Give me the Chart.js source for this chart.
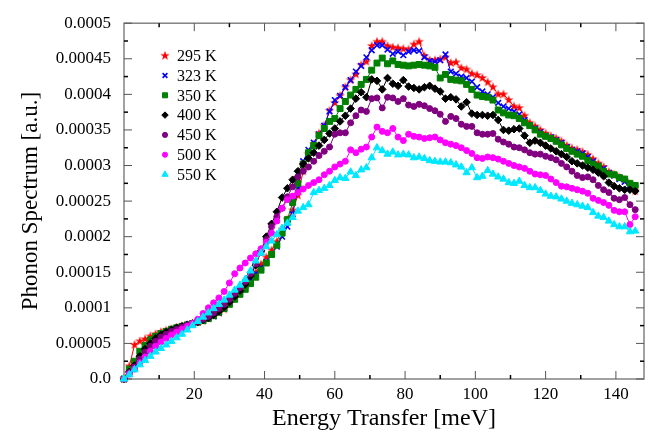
<!DOCTYPE html>
<html><head><meta charset="utf-8">
<script src="https://cdn.jsdelivr.net/npm/chart.js@4.4.0/dist/chart.umd.min.js"></script>
<style>html,body{margin:0;padding:0;background:#fff;}#wrap{width:656px;height:436px;}</style>
</head><body><div id="wrap"><canvas id="c" width="656" height="436"></canvas></div>
<script>
// Energy transfer [meV]
const energy = [0,1.5,3,4.5,6,7.5,9,10.5,12,13.5,15,16.5,18,19.5,21,22.5,24,25.5,27,28.5,
30,31.5,33,34.5,36,37.5,39,40.5,42,43.5,45,46.5,48,49.5,51,52.5,54,55.5,57,58.5,
60,61.5,63,64.5,66,67.5,69,70.5,72,73.5,75,76.5,78,79.5,81,82.5,84,85.5,87,88.5,
90,91.5,93,94.5,96,97.5,99,100.5,102,103.5,105,106.5,108,109.5,111,112.5,114,115.5,117,118.5,
120,121.5,123,124.5,126,127.5,129,130.5,132,133.5,135,136.5,138,139.5,141,142.5,144,145.5];

// Phonon spectrum, in units of 1e-6 a.u.
const s295 = [0,18,48,53,56,60,63,66,68,70, 72,74,76,78,80,82,85,89,93,98,
106,114,121,128,140,150,161,171,181,193, 210,224,237,258,292,316,330,345,356,377,
388,398,410,420,428,441,446,468,474,474, 468,466,465,464,463,470,474,454,448,448,
449,452,444,445,437,435,429,427,423,417, 410,400,400,392,383,381,370,360,355,350,
345,341,338,334,328,324,322,319,315,309, 303,298,291,287,283,279,272,264];
const s323 = [0,10,20,32,42,50,56,61,65,68, 71,74,76,78,80,82,85,88,93,100,
108,116,123,130,139,148,157,165,175,186, 200,214,232,268,306,322,332,344,356,376,
392,398,410,420,432,440,452,462,469,469, 463,457,460,455,460,462,461,452,447,446,
448,456,432,429,425,423,418,410,404,400, 396,388,383,380,376,372,364,356,352,347,
342,340,336,332,326,322,320,317,312,306, 300,296,290,286,281,277,272,268];
const s350 = [0,14,25,39,47,55,60,64,67,70, 72,74,76,78,80,82,85,89,94,99,
105,112,119,126,134,143,153,163,175,188, 205,224,248,275,302,318,328,342,352,362,
366,380,390,399,407,414,421,434,444,451, 443,447,442,441,440,441,442,441,440,438,
423,428,421,420,419,414,407,399,397,396, 392,378,374,371,370,366,360,356,350,344,
341,338,334,329,324,320,316,313,307,302, 299,292,288,287,283,281,275,272];
const s400 = [0,10,19,32,42,50,57,62,66,69, 72,74,76,78,80,83,86,90,95,101,
108,116,124,133,145,160,180,200,218,235, 255,268,280,292,302,310,318,328,336,345,
352,362,370,380,394,403,396,421,419,407, 423,415,412,420,411,409,407,410,412,408,
404,394,396,393,383,389,373,371,371,370, 371,364,350,349,351,352,342,332,335,332,
328,324,320,316,312,306,303,300,297,294, 290,285,276,271,268,266,266,264];
const s450 = [0,9,17,28,38,46,53,59,63,67, 70,73,76,78,81,84,88,93,99,105,
112,120,128,137,148,162,178,196,214,228, 240,256,270,284,292,298,306,314,320,326,
344,346,346,360,370,378,376,394,395,381, 396,395,390,394,385,383,386,384,380,377,
372,362,369,366,358,355,355,346,344,344, 345,337,333,330,326,325,322,318,316,316,
313,311,308,303,298,292,286,283,284,280, 272,266,262,254,252,255,245,238];
const s500 = [0,7,14,23,31,39,46,52,57,62, 66,70,74,78,84,92,100,107,114,123,
135,148,156,163,170,176,183,192,205,222, 240,252,257,262,267,272,276,280,287,292,
298,302,306,322,318,323,326,340,354,348, 346,352,340,335,344,341,340,338,339,340,
336,332,330,328,325,321,317,311,310,312, 311,309,306,303,300,298,296,292,288,287,
286,281,276,271,270,268,266,264,261,254, 251,248,244,237,235,235,217,228];
const s550 = [0,6,13,20,26,32,38,43,48,53, 58,63,69,75,81,87,93,99,105,111,
118,125,132,140,152,166,177,186,194,203, 212,219,227,236,241,245,262,265,268,272,
279,283,282,291,286,294,297,311,325,321, 316,319,315,316,315,311,312,310,307,306,
305,305,304,301,298,290,297,283,285,293, 288,284,281,276,275,278,272,269,269,265,
260,257,256,253,250,247,245,243,241,234, 229,227,222,217,214,214,207,208];

const seriesLabels = ['295 K','323 K','350 K','400 K','450 K','500 K','550 K'];
const xMajorTicks = [20,40,60,80,100,120,140];
const xMinorTicks = [10,30,50,70,90,110,130];
const yTickValues = [0,50,100,150,200,250,300,350,400,450,500];
const yTickLabels = ['0.0','0.00005','0.0001','0.00015','0.0002','0.00025','0.0003','0.00035','0.0004','0.00045','0.0005'];
const yMinorTicks = [25,75,125,175,225,275,325,375,425,475];

function makeStar(color, r){
  const s = Math.ceil(2*r+2);
  const c = document.createElement('canvas'); c.width = s; c.height = s;
  const g = c.getContext('2d'); g.fillStyle = color; g.beginPath();
  for (let k=0;k<10;k++){
    const rr = (k%2) ? r*0.38 : r;
    const a = -Math.PI/2 + k*Math.PI/5;
    g.lineTo(s/2 + rr*Math.cos(a), s/2 + rr*Math.sin(a));
  }
  g.closePath(); g.fill();
  return c;
}

const allSeries = [s295,s323,s350,s400,s450,s500,s550];
const colors = ['#ff0000','#0000ff','#008000','#000000','#800080','#ff00ff','#00e8ff'];
const styles = [
  {ps: makeStar('#ff0000',5), r:5, bw:1},
  {ps:'crossRot', r:4, bw:1.6},
  {ps:'rect', r:4.2, bw:1},
  {ps:'rectRot', r:3.8, bw:1},
  {ps:'circle', r:3, bw:1},
  {ps:'circle', r:3, bw:1},
  {ps:'triangle', r:4.2, bw:1}
];

const datasets = allSeries.map((arr,k)=>({
  label: seriesLabels[k],
  data: energy.map((e,i)=>({x:e, y:arr[i]})),
  borderColor: colors[k], backgroundColor: colors[k],
  borderWidth: 1, pointStyle: styles[k].ps, pointRadius: styles[k].r,
  pointBorderWidth: styles[k].bw, pointHoverRadius: styles[k].r,
  order: 6-k, clip: false, tension: 0
}));

const FONT = "'Liberation Serif', 'Times New Roman', serif";

const framePlugin = {
  id:'frameTicks',
  beforeDatasetsDraw(chart){
    const {ctx, chartArea:a, scales:{x,y}} = chart;
    ctx.save();
    ctx.strokeStyle = '#7a7a7a'; ctx.lineWidth = 1.4;
    ctx.strokeRect(a.left, a.top, a.right-a.left, a.bottom-a.top);
    const ln = (x1,y1,x2,y2)=>{ctx.beginPath();ctx.moveTo(x1,y1);ctx.lineTo(x2,y2);ctx.stroke();};
    ctx.strokeStyle = '#555'; ctx.lineWidth = 1;
    xMajorTicks.forEach(v=>{const p=x.getPixelForValue(v); ln(p,a.bottom,p,a.bottom-8); ln(p,a.top,p,a.top+8);});
    yTickValues.forEach(v=>{const p=y.getPixelForValue(v); ln(a.left,p,a.left+8,p); ln(a.right,p,a.right-8,p);});
    ctx.strokeStyle = '#000'; ctx.lineWidth = 1.5;
    xMinorTicks.forEach(v=>{const p=x.getPixelForValue(v); ln(p,a.bottom,p,a.bottom-4); ln(p,a.top,p,a.top+4);});
    yMinorTicks.forEach(v=>{const p=y.getPixelForValue(v); ln(a.left,p,a.left+4,p); ln(a.right,p,a.right-4,p);});
    ctx.restore();
  }
};

const legendPlugin = {
  id:'inLegend',
  afterDraw(chart){
    const {ctx, chartArea:a} = chart;
    ctx.save();
    ctx.font = '16px ' + FONT; ctx.textBaseline = 'middle'; ctx.textAlign = 'left';
    seriesLabels.forEach((lab,k)=>{
      const yy = a.top + 32.5 + k*19.8, xx = a.left + 41;
      ctx.fillStyle = colors[k]; ctx.strokeStyle = colors[k]; ctx.lineWidth = styles[k].bw;
      Chart.helpers.drawPoint(ctx, {pointStyle: styles[k].ps, radius: styles[k].r*0.85, rotation:0, borderWidth: styles[k].bw}, xx, yy);
      ctx.fillStyle = '#000';
      ctx.fillText(lab, xx + 12, yy + 1);
    });
    ctx.restore();
  }
};

new Chart(document.getElementById('c'), {
  type:'line',
  data:{datasets},
  options:{
    responsive:false, animation:false, devicePixelRatio:1,
    layout:{padding:{top:12,right:12,left:0,bottom:0}},
    plugins:{legend:{display:false}, tooltip:{enabled:false}},
    scales:{
      x:{type:'linear', min:0, max:148,
        afterBuildTicks: s=>{ s.ticks = xMajorTicks.map(v=>({value:v})); },
        afterFit: s=>{ s.height = 57; },
        grid:{display:false, drawTicks:false}, border:{display:false},
        ticks:{padding:5, color:'#000', autoSkip:false, maxRotation:0, font:{family:FONT, size:17}},
        title:{display:true, text:'Energy Transfer [meV]', color:'#000', font:{family:FONT, size:24}, padding:{top:0,bottom:3}}
      },
      y:{type:'linear', min:0, max:500,
        afterBuildTicks: s=>{ s.ticks = yTickValues.map(v=>({value:v})); },
        afterFit: s=>{ s.width = 124; },
        grid:{display:false, drawTicks:false}, border:{display:false},
        ticks:{padding:13, color:'#000', autoSkip:false, font:{family:FONT, size:17},
          callback:(v)=>yTickLabels[yTickValues.indexOf(v)]},
        title:{display:true, text:'Phonon Spectrum [a.u.]', color:'#000', font:{family:FONT, size:23}, padding:{top:17,bottom:0}}
      }
    }
  },
  plugins:[framePlugin, legendPlugin]
});
</script></body></html>
